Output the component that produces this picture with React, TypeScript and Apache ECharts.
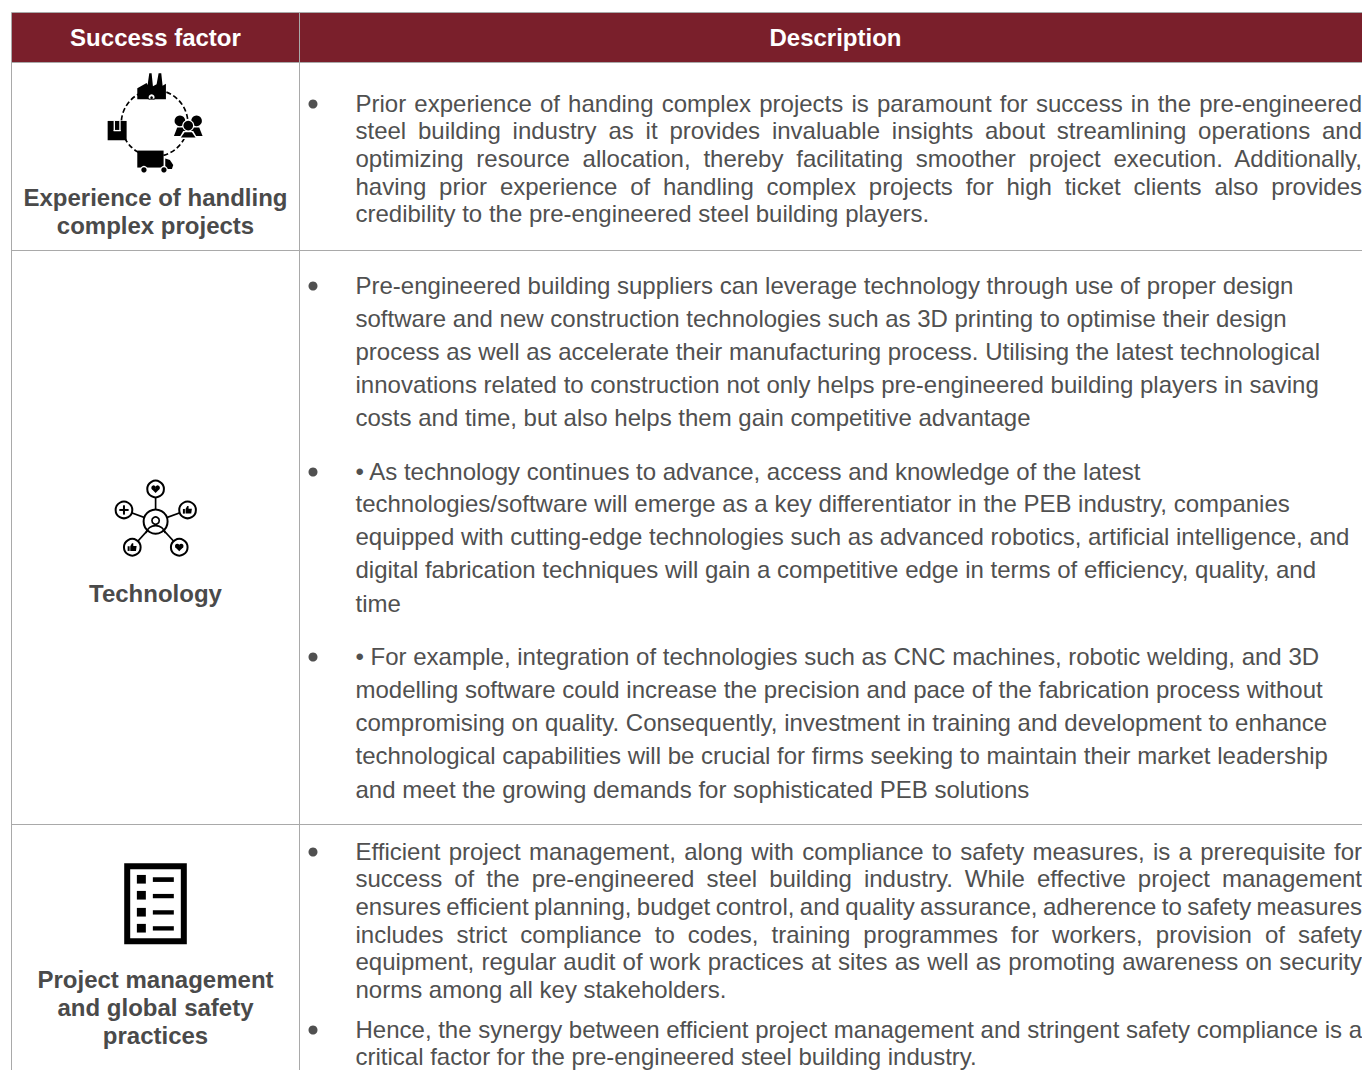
import React, { useEffect, useRef } from "react";
import * as echarts from "echarts";

const headers = ["Success factor", "Description"];
const factor1 = ["Experience of handling", "complex projects"];
const factor2 = ["Technology"];
const factor3 = ["Project management", "and global safety", "practices"];

const para1 = [
  "Prior experience of handing complex projects is paramount for success in the pre-engineered",
  "steel building industry as it provides invaluable insights about streamlining operations and",
  "optimizing resource allocation, thereby facilitating smoother project execution. Additionally,",
  "having prior experience of handling complex projects for high ticket clients also provides",
  "credibility to the pre-engineered steel building players.",
];
const para2 = [
  "Pre-engineered building suppliers can leverage technology through use of proper design",
  "software and new construction technologies such as 3D printing to optimise their design",
  "process as well as accelerate their manufacturing process. Utilising the latest technological",
  "innovations related to construction not only helps pre-engineered building players in saving",
  "costs and time, but also helps them gain competitive advantage",
];
const para3 = [
  "• As technology continues to advance, access and knowledge of the latest",
  "technologies/software will emerge as a key differentiator in the PEB industry, companies",
  "equipped with cutting-edge technologies such as advanced robotics, artificial intelligence, and",
  "digital fabrication techniques will gain a competitive edge in terms of efficiency, quality, and",
  "time",
];
const para4 = [
  "• For example, integration of technologies such as CNC machines, robotic welding, and 3D",
  "modelling software could increase the precision and pace of the fabrication process without",
  "compromising on quality. Consequently, investment in training and development to enhance",
  "technological capabilities will be crucial for firms seeking to maintain their market leadership",
  "and meet the growing demands for sophisticated PEB solutions",
];
const para5 = [
  "Efficient project management, along with compliance to safety measures, is a prerequisite for",
  "success of the pre-engineered steel building industry. While effective project management",
  "ensures efficient planning, budget control, and quality assurance, adherence to safety measures",
  "includes strict compliance to codes, training programmes for workers, provision of safety",
  "equipment, regular audit of work practices at sites as well as promoting awareness on security",
  "norms among all key stakeholders.",
];
const para6 = [
  "Hence, the synergy between efficient project management and stringent safety compliance is a",
  "critical factor for the pre-engineered steel building industry.",
];

const FONT = '"Liberation Sans", Arial, sans-serif';
const TEXT = "#505050";
const LABEL = "#4a4a4a";
const MAROON = "#7a1f2b";
const BORDER = "#a9a9a9";
const BODY = 24;
const RIGHT = 1362;
const TEXT_X = 355.5;
const DY = -1;
const justifiedParas = [para1, para5, para6];
const layout: [string[], number[]][] = [
  [para1, [104, 131.5, 159, 187, 214]],
  [para2, [286, 319, 352, 385, 418]],
  [para3, [472, 504, 537, 570, 604]],
  [para4, [657, 690, 723, 756, 790]],
  [para5, [852, 879, 907, 935, 962, 990]],
  [para6, [1030, 1057]],
];

const line = (x1: number, y1: number, x2: number, y2: number, color = BORDER, lineWidth = 1) => ({
  type: "line", shape: { x1, y1, x2, y2 }, style: { stroke: color, lineWidth }, silent: true,
});
const text = (t: string, x: number, y: number, size: number, fill: string, bold = false, align = "left") => ({
  type: "text",
  style: {
    text: t, x, y: y + DY, fill, textAlign: align, textVerticalAlign: "middle", verticalAlign: "middle",
    font: `${bold ? "bold " : ""}${size}px ${FONT}`,
  },
});
const R = (x: number, y: number, x2: number, y2: number, fill = "#000") => ({
  type: "rect", shape: { x, y, width: x2 - x, height: y2 - y }, style: { fill },
});
const C = (cx: number, cy: number, r: number, fill = "#000", stroke?: string, lineWidth = 0) => ({
  type: "circle", shape: { cx, cy, r }, style: { fill, stroke: stroke || undefined, lineWidth },
});
const P = (points: number[][], fill = "#000") => ({ type: "polygon", shape: { points }, style: { fill } });
const L = (x1: number, y1: number, x2: number, y2: number, w: number, color = "#000") => line(x1, y1, x2, y2, color, w);

const heart = (cx: number, cy: number) => [
  C(cx - 6, cy - 4, 6.8), C(cx + 6, cy - 4, 6.8),
  P([[cx - 12.5, cy - 1], [cx + 12.5, cy - 1], [cx, cy + 12]]),
];
const thumb = (cx: number, cy: number) => [
  R(cx - 14, cy - 3, cx - 8, cy + 11),
  P([[cx - 6, cy - 3], [cx - 1, cy - 12], [cx + 3, cy - 12], [cx + 3, cy - 4], [cx + 13, cy - 4], [cx + 11, cy + 11], [cx - 6, cy + 11]]),
];

function icon1() {
  const children: any[] = [
    { type: "circle", shape: { cx: 194, cy: 175, r: 100 }, style: { fill: "none", stroke: "#000", lineWidth: 5, lineDash: [15, 8] } },
    // factory
    P([[142, 103], [142, 70], [170, 54], [173, 60], [178, 25], [185, 25], [189, 64], [200, 58], [206, 25], [214, 25], [218, 62], [228, 56], [228, 103]]),
    C(185, 97, 9, "#fff"), C(185, 98, 4), R(176, 101, 194, 104, "#000"),
    // box
    R(53, 168, 110, 226),
    R(71, 168, 75, 198, "#fff"), R(71, 195, 92, 199, "#fff"), R(88, 168, 92, 198, "#fff"),
    // truck
    R(142, 257, 221, 308),
    P([[226, 281], [240, 285], [250, 300], [246, 312], [226, 312]]),
    C(162, 315, 12, "#fff"), C(162, 315, 8), C(222, 315, 12, "#fff"), C(222, 315, 8),
    // people
    C(270, 168, 16), C(320, 168, 16),
    P([[252, 213], [262, 188], [290, 188], [290, 213]]), P([[338, 213], [328, 188], [300, 188], [300, 213]]),
    C(295, 182, 18, "#fff"), C(295, 182, 14.5),
    P([[266, 222], [280, 198], [310, 198], [324, 222]], "#fff"),
    P([[273, 218], [284, 202], [306, 202], [317, 218]]),
  ];
  return { type: "group", x: 90, y: 65, scaleX: 1 / 3, scaleY: 1 / 3, silent: true, children };
}

function icon2() {
  const nodes = [[197, 57], [293, 120], [102, 120], [127, 232], [268, 232]];
  const ring = { cx: 197, cy: 155 };
  const children: any[] = [
    ...nodes.map(([x, y]) => L(ring.cx, ring.cy, x, y, 5)),
    C(ring.cx, ring.cy, 36, "#fff", "#000", 6),
    C(197, 152, 11, "#fff", "#000", 5),
    { type: "arc", shape: { cx: 197, cy: 197, r: 30, startAngle: Math.PI * 1.08, endAngle: Math.PI * 1.92 }, style: { fill: "none", stroke: "#000", lineWidth: 5 } },
    ...nodes.map(([x, y]) => C(x, y, 25, "#fff", "#000", 6)),
    ...heart(197, 57), ...heart(268, 232),
    ...thumb(293, 120), ...thumb(127, 232),
    R(88, 117, 116, 123), R(99, 106, 105, 134),
  ];
  return { type: "group", x: 90, y: 470, scaleX: 1 / 3, scaleY: 1 / 3, silent: true, children };
}

function icon3() {
  const rows = [[195, 221, 202, 216], [243, 269, 252, 265], [294, 320, 301, 314], [342, 368, 349, 362]];
  const children: any[] = [
    R(373, 160, 561, 403),
    R(391, 178, 543, 385, "#fff"),
    ...rows.flatMap(([a, b, c, d]) => [R(411, a, 438, b), R(459, c, 522, d)]),
  ];
  return { type: "group", x: 0, y: 810, scaleX: 1 / 3, scaleY: 1 / 3, silent: true, children };
}

export default function App() {
  const ref = useRef<HTMLDivElement>(null);
  useEffect(() => {
    document.body.style.margin = "0";
    const chart = echarts.init(ref.current!, undefined, { renderer: "svg" });
    const elements: any[] = [
      { type: "rect", shape: { x: 12, y: 13, width: 1350, height: 49 }, style: { fill: MAROON } },
      line(11.5, 12.5, 1362, 12.5),
      line(11.5, 12.5, 11.5, 1070),
      line(299.5, 12.5, 299.5, 1070),
      line(11.5, 62.5, 1362, 62.5),
      line(11.5, 250.5, 1362, 250.5),
      line(11.5, 824.5, 1362, 824.5),
      text(headers[0], 155.5, 38, 24, "#fff", true, "center"),
      text(headers[1], 835.5, 38, 24, "#fff", true, "center"),
      icon1(), icon2(), icon3(),
    ];
    factor1.forEach((t, i) => elements.push(text(t, 155.5, 198 + i * 28, 24, LABEL, true, "center")));
    factor2.forEach((t) => elements.push(text(t, 155.5, 594, 24, LABEL, true, "center")));
    factor3.forEach((t, i) => elements.push(text(t, 155.5, 980 + i * 28, 24, LABEL, true, "center")));
    layout.forEach(([lines, ys]) => {
      elements.push({ type: "circle", shape: { cx: 313, cy: ys[0], r: 4.5 }, style: { fill: TEXT } });
      lines.forEach((t, i) => elements.push(text(t, TEXT_X, ys[i], BODY, TEXT)));
    });
    chart.setOption({ animation: false, graphic: { elements } });

    const justify = new Set<string>();
    justifiedParas.forEach((p) => p.slice(0, -1).forEach((t) => justify.add(t)));
    ref.current!.querySelectorAll("text").forEach((el) => {
      const s = el.textContent || "";
      if (!justify.has(s)) return;
      const gaps = s.split(" ").length - 1;
      const w = (el as SVGTextElement).getComputedTextLength();
      (el as SVGTextElement).style.wordSpacing = `${(RIGHT - TEXT_X - w) / gaps}px`;
    });
    return () => chart.dispose();
  }, []);
  return <div ref={ref} style={{ position: "absolute", left: 0, top: 0, width: 1362, height: 1070, overflow: "hidden" }} />;
}
